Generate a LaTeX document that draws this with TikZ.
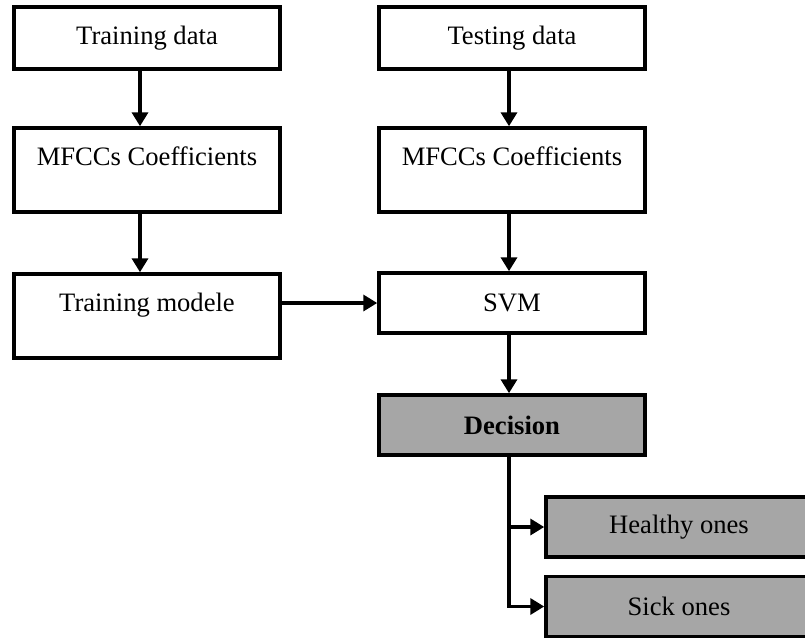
\documentclass[tikz,border=0pt]{standalone}
\usepackage{fontspec}
\setmainfont{Liberation Serif}
\usepackage{tikz}
\usetikzlibrary{arrows.meta}
\tikzset{>={Triangle[length=7pt,width=8pt]}}
\tikzset{
  box/.style={draw, line width=1.75pt, inner sep=0pt, minimum width=133pt, minimum height=30pt, font=\fontsize{13.3}{15}\selectfont},
  tallbox/.style={box, text height=18.5pt, text depth=23.5pt},
  greybox/.style={box, fill=black!35},
  link/.style={->, line width=1.75pt}
}

\begin{document}
\begin{tikzpicture}[x=0.5pt, y=-0.5pt]
\clip (0, 0) rectangle (805, 639);
\node[box, minimum height=31pt] (trdata) at (147, 38) {Training data};
\node[box, minimum height=31pt] (tsdata) at (512, 38) {Testing data};
\node[tallbox] (trmfcc) at (147, 170) {MFCCs Coefficients};
\node[tallbox] (tsmfcc) at (512, 170) {MFCCs Coefficients};
\node[tallbox] (trmodel) at (147, 316) {Training modele};
\node[box] (svm) at (512, 303) {SVM};
\node[greybox, font=\fontsize{13.3}{15}\selectfont\bfseries] (decision) at (512, 425) {Decision};
\node[greybox] (healthy) at (679, 527) {Healthy ones};
\node[greybox] (sick) at (679, 606.5) {Sick ones};

\draw[link] ([xshift=-3.5pt]trdata.south) -- ([xshift=-3.5pt]trmfcc.north);
\draw[link] ([xshift=-3.5pt]trmfcc.south) -- ([xshift=-3.5pt]trmodel.north);
\draw[link] ([xshift=-1.5pt]tsdata.south) -- ([xshift=-1.5pt]tsmfcc.north);
\draw[link] ([xshift=-1.5pt]tsmfcc.south) -- ([xshift=-1.5pt]svm.north);
\draw[link] (trmodel.east |- svm.west) -- (svm.west);
\draw[link] ([xshift=-1.5pt]svm.south) -- ([xshift=-1.5pt]decision.north);
\draw[link] ([xshift=-1.5pt]decision.south) |- (sick.west);
\draw[link] ([xshift=-1.5pt]decision.south |- healthy.west) -- (healthy.west);

\end{tikzpicture}
\end{document}
